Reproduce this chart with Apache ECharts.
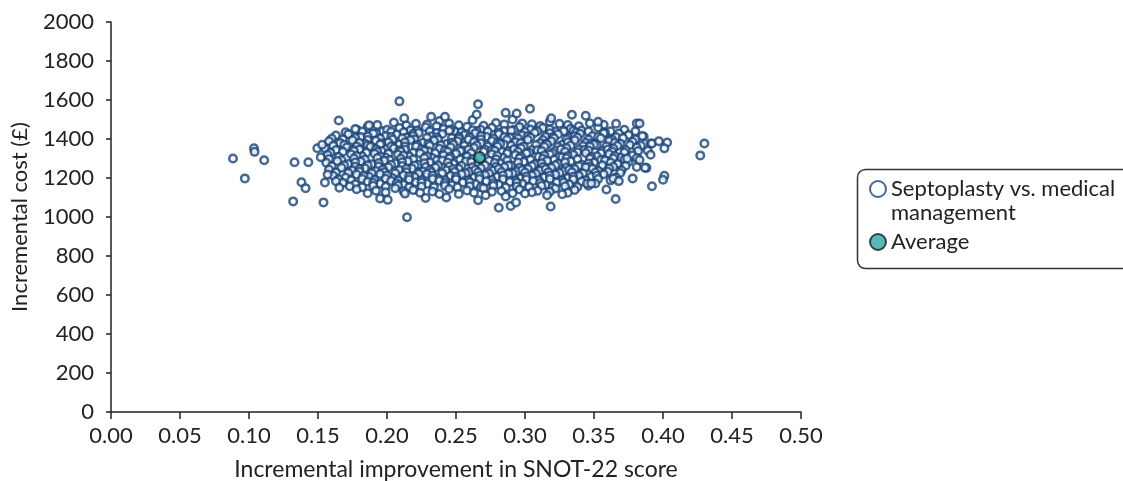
<!DOCTYPE html>
<html>
<head>
<meta charset="utf-8">
<script src="https://cdn.jsdelivr.net/npm/echarts@6/dist/echarts.min.js"></script>
<style>
  html, body { margin: 0; padding: 0; background: #fff; }
  #chart { width: 1123px; height: 481px; }
</style>
</head>
<body>
<div id="chart"></div>
<script>
// axis ticks
var xTicks = [0, 0.05, 0.1, 0.15, 0.2, 0.25, 0.3, 0.35, 0.4, 0.45, 0.5];
var yTicks = [0, 200, 400, 600, 800, 1000, 1200, 1400, 1600, 1800, 2000];

// outlying simulations
var outliers = [
  [0.0884, 1300], [0.097, 1198], [0.1036, 1352], [0.104, 1334], [0.111, 1291],
  [0.132, 1080], [0.133, 1281], [0.138, 1178], [0.141, 1148], [0.143, 1281],
  [0.154, 1075], [0.165, 1495], [0.1495, 1353], [0.153, 1370], [0.152, 1307],
  [0.163, 1183], [0.1655, 1150], [0.155, 1177], [0.157, 1218],
  [0.209, 1593], [0.266, 1578], [0.232, 1514], [0.242, 1514], [0.265, 1526],
  [0.187, 1471], [0.2125, 1506], [0.177, 1451], [0.3036, 1555], [0.334, 1524],
  [0.344, 1519], [0.353, 1488], [0.381, 1480], [0.319, 1506], [0.286, 1534],
  [0.294, 1531], [0.383, 1480],
  [0.385, 1416], [0.392, 1377], [0.397, 1389], [0.403, 1382], [0.401, 1352],
  [0.391, 1319], [0.383, 1292], [0.388, 1252], [0.401, 1211], [0.400, 1191],
  [0.392, 1158], [0.430, 1377], [0.427, 1316], [0.374, 1300], [0.387, 1252],
  [0.378, 1198], [0.364, 1198], [0.368, 1184], [0.345, 1172], [0.348, 1172],
  [0.359, 1141], [0.3657, 1092], [0.3186, 1054], [0.281, 1047], [0.2896, 1057],
  [0.2935, 1075], [0.2145, 999]
];

// main cloud, row by row
var cloud = [
  [0.205, 1485], [0.221, 1478], [0.238, 1492], [0.252, 1470], [0.262, 1497], [0.279, 1482],
  [0.291, 1500], [0.305, 1476], [0.318, 1489], [0.331, 1472], [0.347, 1481], [0.236, 1466],

  [0.193, 1472], [0.214, 1470], [0.229, 1474], [0.245, 1480], [0.270, 1468], [0.285, 1475],
  [0.298, 1480], [0.311, 1467], [0.325, 1478], [0.339, 1465], [0.357, 1473], [0.366, 1478],

  [0.178, 1448], [0.186, 1462], [0.197, 1440], [0.209, 1457], [0.217, 1445], [0.228, 1460],
  [0.241, 1451], [0.249, 1438], [0.258, 1463], [0.268, 1447], [0.276, 1458], [0.285, 1441],
  [0.296, 1462], [0.304, 1449], [0.313, 1457], [0.322, 1438], [0.333, 1452], [0.341, 1444],
  [0.353, 1459], [0.362, 1440], [0.372, 1447],

  [0.200, 1447], [0.222, 1443], [0.246, 1449], [0.265, 1441], [0.292, 1446], [0.318, 1449],
  [0.335, 1442],

  [0.170, 1435], [0.182, 1438], [0.192, 1430], [0.203, 1437], [0.212, 1434], [0.219, 1428],
  [0.231, 1440], [0.236, 1431], [0.245, 1442], [0.254, 1434], [0.262, 1445], [0.273, 1438],
  [0.281, 1433], [0.290, 1443], [0.300, 1436], [0.309, 1440], [0.318, 1430], [0.328, 1440],
  [0.337, 1433], [0.346, 1438], [0.358, 1432], [0.368, 1428], [0.380, 1440],

  [0.163, 1418], [0.172, 1425], [0.181, 1410], [0.19, 1428], [0.199, 1415], [0.207, 1423],
  [0.214, 1408], [0.223, 1431], [0.232, 1414], [0.240, 1426], [0.247, 1405], [0.256, 1420],
  [0.264, 1430], [0.272, 1411], [0.281, 1424], [0.289, 1407], [0.298, 1419], [0.307, 1432],
  [0.315, 1412], [0.324, 1424], [0.332, 1406], [0.340, 1427], [0.349, 1415], [0.357, 1429],
  [0.366, 1410], [0.375, 1421], [0.386, 1412],

  [0.186, 1413], [0.203, 1410], [0.219, 1415], [0.236, 1409], [0.252, 1412], [0.268, 1416],
  [0.285, 1410], [0.302, 1414], [0.320, 1409], [0.336, 1415], [0.353, 1411],

  [0.160, 1402], [0.168, 1398], [0.177, 1405], [0.186, 1395], [0.195, 1403], [0.204, 1397],
  [0.211, 1404], [0.220, 1399], [0.229, 1406], [0.237, 1398], [0.252, 1403], [0.260, 1409],
  [0.268, 1398], [0.277, 1402], [0.287, 1396], [0.295, 1402], [0.304, 1408], [0.313, 1395],
  [0.321, 1404], [0.330, 1399], [0.338, 1408], [0.346, 1398], [0.355, 1404], [0.363, 1397],
  [0.371, 1405], [0.380, 1399],

  [0.158, 1388], [0.166, 1380], [0.175, 1394], [0.184, 1376], [0.192, 1391], [0.201, 1383],
  [0.209, 1372], [0.217, 1395], [0.226, 1381], [0.234, 1392], [0.243, 1374], [0.251, 1388],
  [0.259, 1397], [0.268, 1378], [0.276, 1390], [0.285, 1370], [0.293, 1385], [0.302, 1396],
  [0.311, 1379], [0.319, 1389], [0.327, 1371], [0.336, 1393], [0.344, 1381], [0.352, 1368],
  [0.361, 1390], [0.369, 1377], [0.378, 1386], [0.391, 1377],

  [0.180, 1381], [0.196, 1377], [0.213, 1383], [0.230, 1376], [0.247, 1382], [0.263, 1384],
  [0.280, 1378], [0.297, 1380], [0.315, 1376], [0.331, 1383], [0.348, 1377], [0.365, 1381],

  [0.161, 1365], [0.169, 1370], [0.178, 1362], [0.186, 1368], [0.195, 1372], [0.203, 1363],
  [0.213, 1362], [0.222, 1370], [0.231, 1365], [0.239, 1368], [0.248, 1372], [0.256, 1365],
  [0.265, 1368], [0.273, 1362], [0.282, 1374], [0.290, 1367], [0.299, 1362], [0.308, 1369],
  [0.316, 1372], [0.324, 1360], [0.333, 1367], [0.342, 1364], [0.350, 1372], [0.359, 1363],
  [0.367, 1365], [0.376, 1369], [0.384, 1365],

  [0.155, 1352], [0.163, 1343], [0.171, 1358], [0.180, 1346], [0.188, 1360], [0.196, 1339],
  [0.205, 1353], [0.213, 1345], [0.221, 1362], [0.230, 1337], [0.238, 1350], [0.246, 1358],
  [0.255, 1341], [0.263, 1355], [0.271, 1346], [0.280, 1361], [0.288, 1338], [0.297, 1352],
  [0.305, 1344], [0.314, 1360], [0.322, 1340], [0.330, 1354], [0.339, 1347], [0.347, 1362],
  [0.356, 1338], [0.364, 1351], [0.373, 1343], [0.381, 1356], [0.389, 1340],

  [0.175, 1343], [0.192, 1348], [0.209, 1342], [0.225, 1347], [0.242, 1341], [0.259, 1346],
  [0.276, 1344], [0.292, 1348], [0.309, 1342], [0.326, 1347], [0.343, 1343], [0.360, 1346],

  [0.159, 1330], [0.168, 1335], [0.176, 1338], [0.185, 1330], [0.193, 1334], [0.201, 1325],
  [0.210, 1336], [0.219, 1330], [0.227, 1340], [0.235, 1327], [0.244, 1334], [0.253, 1338],
  [0.261, 1328], [0.270, 1334], [0.278, 1340], [0.287, 1326], [0.295, 1335], [0.303, 1330],
  [0.312, 1338], [0.320, 1328], [0.329, 1335], [0.338, 1332], [0.346, 1341], [0.355, 1327],
  [0.363, 1336], [0.372, 1331], [0.382, 1338],

  [0.157, 1318], [0.165, 1308], [0.174, 1322], [0.182, 1311], [0.191, 1325], [0.199, 1305],
  [0.208, 1320], [0.216, 1312], [0.224, 1327], [0.233, 1303], [0.241, 1317], [0.250, 1325],
  [0.258, 1310], [0.276, 1322], [0.284, 1304], [0.293, 1318], [0.301, 1327], [0.310, 1309],
  [0.318, 1321], [0.327, 1306], [0.335, 1319], [0.344, 1328], [0.352, 1311], [0.361, 1323],
  [0.369, 1305], [0.378, 1316],

  [0.178, 1313], [0.195, 1310], [0.212, 1315], [0.229, 1311], [0.246, 1309], [0.280, 1314],
  [0.297, 1310], [0.314, 1315], [0.331, 1312], [0.348, 1308], [0.365, 1313],

  [0.158, 1297], [0.167, 1292], [0.176, 1300], [0.184, 1295], [0.193, 1302], [0.202, 1292],
  [0.210, 1299], [0.219, 1296], [0.227, 1302], [0.236, 1291], [0.245, 1300], [0.253, 1295],
  [0.262, 1298], [0.279, 1296], [0.287, 1290], [0.296, 1301], [0.304, 1294], [0.313, 1299],
  [0.321, 1293], [0.330, 1301], [0.338, 1296], [0.347, 1299], [0.355, 1292], [0.364, 1300],
  [0.372, 1295], [0.381, 1302],

  [0.156, 1278], [0.164, 1287], [0.172, 1272], [0.181, 1284], [0.189, 1270], [0.198, 1289],
  [0.206, 1275], [0.215, 1286], [0.223, 1268], [0.231, 1281], [0.240, 1290], [0.248, 1273],
  [0.257, 1285], [0.265, 1269], [0.274, 1288], [0.282, 1276], [0.290, 1264], [0.299, 1283],
  [0.307, 1271], [0.316, 1289], [0.324, 1274], [0.333, 1286], [0.341, 1268], [0.350, 1280],
  [0.358, 1290], [0.367, 1272], [0.375, 1283],

  [0.177, 1280], [0.194, 1277], [0.211, 1281], [0.227, 1276], [0.244, 1279], [0.261, 1282],
  [0.278, 1277], [0.295, 1280], [0.312, 1276], [0.329, 1281], [0.346, 1275], [0.362, 1279],

  [0.160, 1260], [0.169, 1265], [0.177, 1258], [0.186, 1266], [0.194, 1259], [0.203, 1268],
  [0.211, 1261], [0.220, 1264], [0.228, 1256], [0.237, 1266], [0.245, 1259], [0.254, 1263],
  [0.262, 1255], [0.271, 1265], [0.279, 1258], [0.288, 1264], [0.296, 1252], [0.305, 1261],
  [0.313, 1257], [0.322, 1266], [0.330, 1254], [0.339, 1262], [0.347, 1258], [0.356, 1265],
  [0.364, 1258], [0.373, 1263], [0.381, 1256],

  [0.158, 1243], [0.167, 1252], [0.175, 1238], [0.184, 1250], [0.192, 1236], [0.201, 1255],
  [0.209, 1241], [0.218, 1249], [0.226, 1233], [0.235, 1254], [0.243, 1240], [0.252, 1248],
  [0.260, 1232], [0.268, 1251], [0.277, 1239], [0.285, 1256], [0.294, 1235], [0.302, 1247],
  [0.311, 1238], [0.319, 1253], [0.328, 1234], [0.336, 1246], [0.344, 1255], [0.353, 1237],
  [0.361, 1249], [0.370, 1240],

  [0.180, 1246], [0.197, 1243], [0.214, 1247], [0.231, 1241], [0.248, 1246], [0.264, 1242],
  [0.281, 1247], [0.298, 1241], [0.315, 1246], [0.332, 1242], [0.349, 1247],

  [0.163, 1228], [0.172, 1226], [0.180, 1232], [0.189, 1225], [0.198, 1230], [0.206, 1224],
  [0.214, 1229], [0.223, 1222], [0.232, 1230], [0.240, 1225], [0.249, 1231], [0.257, 1224],
  [0.266, 1229], [0.274, 1223], [0.283, 1231], [0.291, 1225], [0.300, 1228], [0.308, 1222],
  [0.317, 1230], [0.325, 1226], [0.334, 1229], [0.342, 1223], [0.351, 1228], [0.360, 1232],
  [0.369, 1226],

  [0.161, 1212], [0.170, 1203], [0.178, 1218], [0.187, 1206], [0.195, 1220], [0.204, 1200],
  [0.212, 1214], [0.220, 1205], [0.229, 1221], [0.237, 1198], [0.246, 1211], [0.254, 1219],
  [0.263, 1202], [0.271, 1215], [0.280, 1207], [0.288, 1222], [0.297, 1199], [0.305, 1213],
  [0.314, 1204], [0.322, 1218], [0.331, 1200], [0.339, 1212], [0.348, 1206], [0.357, 1219],
  [0.366, 1203],

  [0.183, 1210], [0.200, 1213], [0.216, 1208], [0.233, 1212], [0.250, 1207], [0.267, 1211],
  [0.284, 1213], [0.301, 1208], [0.318, 1212], [0.335, 1207], [0.352, 1211],

  [0.165, 1193], [0.174, 1188], [0.182, 1195], [0.191, 1190], [0.199, 1196], [0.208, 1187],
  [0.216, 1192], [0.225, 1189], [0.233, 1195], [0.242, 1188], [0.250, 1193], [0.259, 1187],
  [0.267, 1195], [0.276, 1190], [0.284, 1194], [0.293, 1186], [0.301, 1192], [0.310, 1188],
  [0.318, 1195], [0.327, 1187], [0.335, 1192], [0.344, 1189], [0.353, 1195], [0.362, 1188],

  [0.168, 1176], [0.177, 1168], [0.186, 1181], [0.195, 1170], [0.203, 1184], [0.212, 1165],
  [0.221, 1178], [0.229, 1170], [0.238, 1186], [0.247, 1163], [0.255, 1177], [0.264, 1169],
  [0.272, 1183], [0.281, 1166], [0.289, 1179], [0.298, 1171], [0.306, 1185], [0.315, 1164],
  [0.323, 1177], [0.332, 1168], [0.341, 1182], [0.351, 1172],

  [0.190, 1176], [0.207, 1173], [0.225, 1177], [0.242, 1174], [0.260, 1178], [0.277, 1173],
  [0.294, 1176], [0.311, 1174], [0.328, 1177],

  [0.173, 1158], [0.182, 1153], [0.190, 1160], [0.199, 1155], [0.208, 1161], [0.216, 1152],
  [0.225, 1157], [0.234, 1153], [0.242, 1160], [0.251, 1152], [0.260, 1158], [0.268, 1153],
  [0.277, 1160], [0.286, 1151], [0.294, 1157], [0.303, 1154], [0.312, 1160], [0.320, 1152],
  [0.329, 1158], [0.338, 1154], [0.346, 1160],

  [0.178, 1142], [0.192, 1135], [0.206, 1147], [0.219, 1138], [0.233, 1131], [0.245, 1144],
  [0.258, 1136], [0.270, 1148], [0.283, 1133], [0.296, 1141], [0.309, 1134], [0.322, 1146],
  [0.336, 1139],

  [0.186, 1122], [0.199, 1127], [0.212, 1132], [0.224, 1124], [0.238, 1118], [0.263, 1125],
  [0.276, 1130], [0.291, 1122], [0.305, 1127], [0.318, 1130], [0.331, 1125],

  [0.195, 1095], [0.2005, 1088], [0.228, 1098], [0.243, 1100], [0.266, 1086], [0.2715, 1112],
  [0.300, 1121], [0.316, 1112], [0.327, 1117], [0.252, 1118], [0.286, 1105], [0.213, 1120]
];

var simulations = cloud.concat(outliers);
var average = [[0.267, 1305]];

var seriesNames = ['Septoplasty vs. medical management', 'Average'];

var chart = echarts.init(document.getElementById('chart'));
var font = 'Lato, "Open Sans", sans-serif';

chart.setOption({
  animation: false,
  textStyle: { fontFamily: font },
  grid: { left: 111, right: 322, top: 22, bottom: 69, containLabel: false, outerBoundsMode: 'none' },
  xAxis: {
    type: 'value',
    min: xTicks[0],
    max: xTicks[xTicks.length - 1],
    interval: 0.05,
    name: 'Incremental improvement in SNOT-22 score',
    nameLocation: 'middle',
    nameGap: 46,
    nameTextStyle: { fontSize: 23, color: '#222', fontFamily: font },
    axisLine: { lineStyle: { color: '#222', width: 1.5 } },
    axisTick: { length: 7, lineStyle: { color: '#222', width: 1.5 } },
    axisLabel: {
      fontSize: 22, color: '#222', margin: 13, fontFamily: font,
      formatter: function (v) { return v.toFixed(2); }
    },
    splitLine: { show: false }
  },
  yAxis: {
    type: 'value',
    min: yTicks[0],
    max: yTicks[yTicks.length - 1],
    interval: 200,
    name: 'Incremental cost (£)',
    nameLocation: 'middle',
    nameGap: 80,
    nameTextStyle: { fontSize: 22, color: '#222', fontFamily: font },
    axisLine: { show: true, lineStyle: { color: '#222', width: 1.5 } },
    axisTick: { show: true, length: 5, lineStyle: { color: '#222', width: 1.5 } },
    axisLabel: {
      fontSize: 22, color: '#222', margin: 17, fontFamily: font,
      formatter: function (v) { return String(v); }
    },
    splitLine: { show: false }
  },
  legend: {
    orient: 'vertical',
    left: 864,
    top: 148,
    itemWidth: 16,
    itemHeight: 16,
    itemGap: 5,
    data: seriesNames,
    // leading empty line keeps the icon level with the first text line
    formatter: function (name) {
      return name === seriesNames[0] ? '\nSeptoplasty vs. medical\nmanagement' : name;
    },
    textStyle: { fontSize: 22, color: '#222', lineHeight: 24, fontFamily: font }
  },
  graphic: [{
    type: 'rect',
    left: 855, top: 167,
    shape: { width: 290, height: 99, r: 8 },
    style: { fill: 'none', stroke: '#333', lineWidth: 1.5 }
  }],
  series: [
    {
      name: seriesNames[0],
      type: 'scatter',
      data: simulations,
      symbolSize: 7.5,
      itemStyle: { color: '#fff', borderColor: '#17437a', borderWidth: 2.5 }
    },
    {
      name: seriesNames[1],
      type: 'scatter',
      data: average,
      symbolSize: 11,
      z: 3,
      itemStyle: { color: '#2aa8a8', borderColor: '#1a1a1a', borderWidth: 2 }
    }
  ]
});
</script>
</body>
</html>
